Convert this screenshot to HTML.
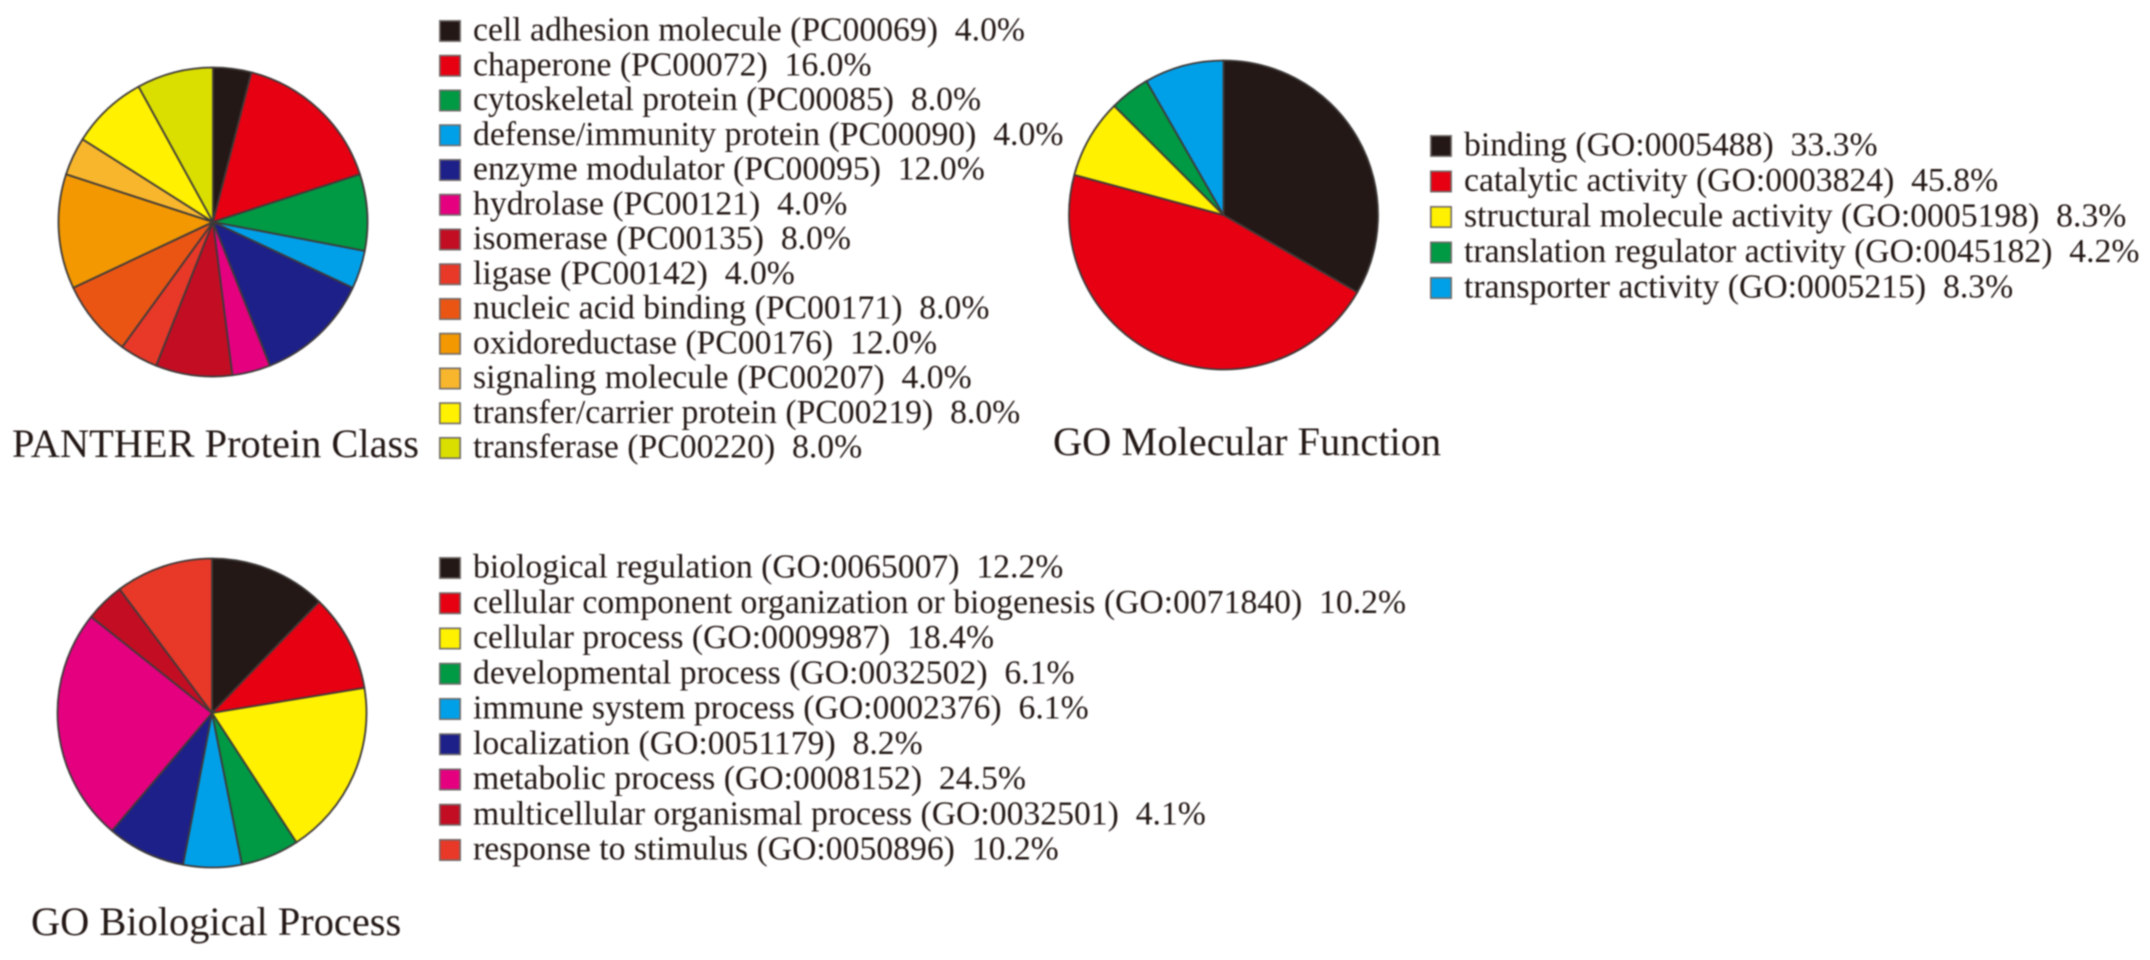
<!DOCTYPE html>
<html lang="en">
<head>
<meta charset="utf-8">
<title>PANTHER and GO classification pie charts</title>
<style>
  html, body { margin: 0; padding: 0; background: #fff; }
  body { width: 2150px; height: 960px; overflow: hidden; }
  svg { display: block; filter: blur(0.7px); }
  text { font-family: "Liberation Serif", serif; fill: #231815; white-space: pre; }
  .legend-text { font-size: 33.7px; }
  .title-text { font-size: 40.4px; }
</style>
</head>
<body>
<svg id="figure" xmlns="http://www.w3.org/2000/svg" width="2150" height="960" viewBox="0 0 2150 960"></svg>
<script>
// ---- Data: PANTHER Protein Class ----
const proteinCategories = [
  "cell adhesion molecule (PC00069)", "chaperone (PC00072)", "cytoskeletal protein (PC00085)",
  "defense/immunity protein (PC00090)", "enzyme modulator (PC00095)", "hydrolase (PC00121)",
  "isomerase (PC00135)", "ligase (PC00142)", "nucleic acid binding (PC00171)",
  "oxidoreductase (PC00176)", "signaling molecule (PC00207)", "transfer/carrier protein (PC00219)",
  "transferase (PC00220)"
];
const proteinValues = [4.0, 16.0, 8.0, 4.0, 12.0, 4.0, 8.0, 4.0, 8.0, 12.0, 4.0, 8.0, 8.0];
const proteinColors = ["#231815", "#e60012", "#009944", "#00a0e9", "#1d2088", "#e4007f", "#c30d23", "#e83828", "#ea5514", "#f39800", "#f8b62d", "#fff100", "#dadf00"];

// ---- Data: GO Molecular Function ----
const functionCategories = [
  "binding (GO:0005488)", "catalytic activity (GO:0003824)", "structural molecule activity (GO:0005198)",
  "translation regulator activity (GO:0045182)", "transporter activity (GO:0005215)"
];
const functionValues = [33.3, 45.8, 8.3, 4.2, 8.3];
const functionColors = ["#231815", "#e60012", "#fff100", "#009944", "#00a0e9"];

// ---- Data: GO Biological Process ----
const processCategories = [
  "biological regulation (GO:0065007)", "cellular component organization or biogenesis (GO:0071840)",
  "cellular process (GO:0009987)", "developmental process (GO:0032502)", "immune system process (GO:0002376)",
  "localization (GO:0051179)", "metabolic process (GO:0008152)", "multicellular organismal process (GO:0032501)",
  "response to stimulus (GO:0050896)"
];
const processValues = [12.2, 10.2, 18.4, 6.1, 6.1, 8.2, 24.5, 4.1, 10.2];
const processColors = ["#231815", "#e60012", "#fff100", "#009944", "#00a0e9", "#1d2088", "#e4007f", "#c30d23", "#e83828"];

const SVG_NS = "http://www.w3.org/2000/svg";
const figure = document.getElementById("figure");

function make(tag, parent, attrs) {
  const el = document.createElementNS(SVG_NS, tag);
  Object.keys(attrs).forEach(function (k) { el.setAttribute(k, attrs[k]); });
  parent.appendChild(el);
  return el;
}

function angleScale(values) {
  const total = values.reduce(function (a, b) { return a + b; }, 0);
  return function (v) { return v / total * Math.PI * 2; };
}

function drawPie(name, title, categories, values, colors, layout) {
  const group = make("g", figure, {});
  
  

  const toAngle = angleScale(values);
  let start = 0;
  values.forEach(function (v, i) {
    const end = start + toAngle(v);
    const x0 = layout.cx + layout.r * Math.sin(start);
    const y0 = layout.cy - layout.r * Math.cos(start);
    const x1 = layout.cx + layout.r * Math.sin(end);
    const y1 = layout.cy - layout.r * Math.cos(end);
    const large = end - start > Math.PI ? 1 : 0;
    const slice = make("path", group, {
      d: "M" + layout.cx + " " + layout.cy + "L" + x0 + " " + y0 +
         "A" + layout.r + " " + layout.r + " 0 " + large + " 1 " + x1 + " " + y1 + "Z",
      fill: colors[i],
      stroke: "#3e3a39",
      "stroke-width": 1.8,
      "stroke-linejoin": "round"
    });
    
    
    start = end;
  });

  categories.forEach(function (label, i) {
    const rowY = layout.legendY + layout.legendStep * i;
    const entry = make("g", group, {});
    
    
    const swatch = make("rect", entry, {
      x: layout.swatchX + 0.8, y: rowY - 10.2, width: layout.swatchW - 1.6, height: 20.4,
      fill: colors[i], stroke: "#716c6a", "stroke-width": 1.6
    });
    
    
    const text = make("text", entry, { x: layout.textX, y: rowY + 9.5, "class": "legend-text" });
    
    
    text.textContent = label + "  " + values[i].toFixed(1) + "%";
  });

  const titleEl = make("text", group, { x: layout.titleX, y: layout.titleY, "class": "title-text" });
  
  
  titleEl.textContent = title;
}

drawPie("panther-protein-class", "PANTHER Protein Class", proteinCategories, proteinValues, proteinColors, {
  cx: 213, cy: 222, r: 154.5, swatchX: 439, swatchW: 22, textX: 473,
  legendY: 31, legendStep: 34.75, titleX: 12, titleY: 457
});
drawPie("go-molecular-function", "GO Molecular Function", functionCategories, functionValues, functionColors, {
  cx: 1223.5, cy: 215, r: 154.5, swatchX: 1430, swatchW: 22, textX: 1464,
  legendY: 146, legendStep: 35.5, titleX: 1053, titleY: 455
});
drawPie("go-biological-process", "GO Biological Process", processCategories, processValues, processColors, {
  cx: 212, cy: 713, r: 154.5, swatchX: 439, swatchW: 22, textX: 473,
  legendY: 568, legendStep: 35.25, titleX: 31, titleY: 935
});
</script>
</body>
</html>
